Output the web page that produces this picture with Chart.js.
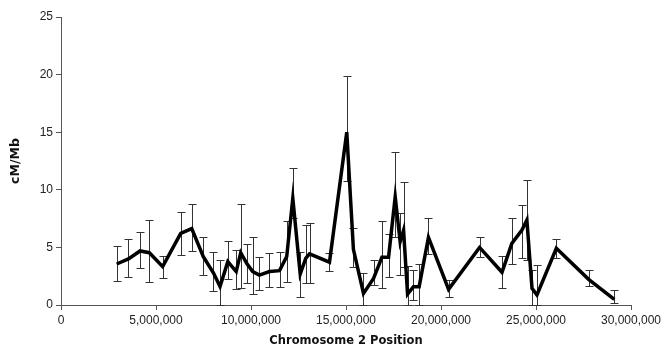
<!DOCTYPE html>
<html><head><meta charset="utf-8">
<script src="https://cdn.jsdelivr.net/npm/chart.js@4.4.1/dist/chart.umd.min.js"></script>
<style>html,body{margin:0;padding:0;background:#fff}</style>
</head><body>
<canvas id="c" width="663" height="349"></canvas>
<script>
const positions = [2930000,3550000,4160000,4650000,5350000,6300000,6880000,7490000,8020000,8370000,
  8780000,9220000,9460000,9780000,10090000,10440000,10970000,11500000,11880000,12200000,
  12590000,12880000,13080000,14130000,15040000,15390000,15920000,16450000,16890000,17240000,
  17590000,17850000,18030000,18240000,18550000,18850000,19340000,20400000,22030000,23210000,
  23730000,24260000,24520000,24790000,25050000,26070000,27770000,29120000];
const cmPerMb = [3.56,4.0,4.69,4.54,3.33,6.22,6.63,4.2,2.8,1.6,
  3.76,2.9,4.54,3.6,2.9,2.6,2.9,2.98,4.2,9.26,
  2.69,4.05,4.43,3.72,15.0,4.83,1.01,2.3,4.14,4.14,
  9.4,5.5,6.5,0.95,1.59,1.59,5.88,1.36,5.0,2.84,
  5.35,6.5,7.38,1.45,0.87,4.92,2.23,0.49];
const errLow = [2.08,2.46,3.24,2.0,2.34,4.37,4.66,2.6,1.2,0,
  2.3,1.36,1.45,1.88,0.95,1.3,1.59,1.59,2.02,7.53,
  0.72,1.94,1.88,2.98,10.8,3.33,0,1.74,1.45,2.46,
  5.93,2.6,3.33,0,0.43,0,4.43,0.67,4.2,1.45,
  3.53,4.1,3.9,0,0,4.05,1.65,0.2];
const errHigh = [5.15,5.76,6.34,7.38,4.25,8.05,8.77,5.87,4.6,3.9,
  5.58,4.77,8.77,5.3,5.93,4.14,4.54,4.63,7.32,11.92,
  4.63,6.94,7.09,4.54,19.85,6.66,2.75,3.9,7.32,6.16,
  13.3,7.96,10.7,3.39,3.04,3.56,7.53,2.17,5.87,4.25,
  7.58,8.68,10.85,3.04,3.47,5.73,3.04,1.3];
const xTicks = [0,5000000,10000000,15000000,20000000,25000000,30000000];
const yTicks = [0,5,10,15,20,25];
const xTitle = 'Chromosome 2 Position';
const yTitle = 'cM/Mb';

const errorBars = {
  id: 'errorBars',
  beforeDatasetsDraw(chart) {
    const {ctx, scales: {x, y}} = chart;
    ctx.save();
    ctx.strokeStyle = '#333';
    ctx.lineWidth = 1;
    positions.forEach((p, i) => {
      const px = Math.round(x.getPixelForValue(p)) + 0.5;
      const top = Math.round(y.getPixelForValue(errHigh[i])) + 0.5;
      const bot = Math.round(y.getPixelForValue(errLow[i])) + 0.5;
      ctx.beginPath();
      ctx.moveTo(px, top); ctx.lineTo(px, bot);
      ctx.moveTo(px - 4, top); ctx.lineTo(px + 4, top);
      ctx.moveTo(px - 4, bot); ctx.lineTo(px + 4, bot);
      ctx.stroke();
    });
    ctx.restore();
  }
};

const tickFont = {family: "'Liberation Sans', Arial, sans-serif", size: 12};
new Chart(document.getElementById('c'), {
  type: 'line',
  data: {
    datasets: [{
      data: positions.map((p, i) => ({x: p, y: cmPerMb[i]})),
      borderColor: '#000',
      borderWidth: 3.5,
      pointRadius: 0,
      tension: 0,
      fill: false
    }]
  },
  options: {
    responsive: false,
    animation: false,
    layout: {padding: {top: 17, right: 32, left: 0, bottom: 0}},
    plugins: {legend: {display: false}, tooltip: {enabled: false}},
    scales: {
      x: {
        type: 'linear', min: 0, max: 30000000,
        afterBuildTicks: a => { a.ticks = xTicks.map(v => ({value: v})); },
        afterFit: a => { a.height = 44; a.paddingRight = 0; a.paddingLeft = 0; },
        grid: {display: true, drawOnChartArea: false, drawTicks: true, tickLength: 5, color: '#555'},
        border: {color: '#555', width: 1},
        ticks: {color: '#222', font: tickFont, padding: 3, maxRotation: 0,
          callback: v => v.toLocaleString('en-US')},
        title: {display: true, text: xTitle, color: '#111',
          font: {family: "'DejaVu Sans', Verdana, sans-serif", size: 11.5, weight: 'bold'},
          padding: {top: 1, bottom: 1}}
      },
      y: {
        min: 0, max: 25,
        afterBuildTicks: a => { a.ticks = yTicks.map(v => ({value: v})); },
        afterFit: a => { a.width = 61; a.paddingTop = 0; a.paddingBottom = 0; },
        grid: {display: true, drawOnChartArea: false, drawTicks: true, tickLength: 5, color: '#555'},
        border: {color: '#555', width: 1},
        ticks: {color: '#222', font: tickFont, padding: 3},
        title: {display: true, text: yTitle, color: '#111',
          font: {family: "'DejaVu Sans', Verdana, sans-serif", size: 12.5, weight: 'bold'},
          padding: {top: 8, bottom: 0}}
      }
    }
  },
  plugins: [errorBars]
});
</script>
</body></html>
